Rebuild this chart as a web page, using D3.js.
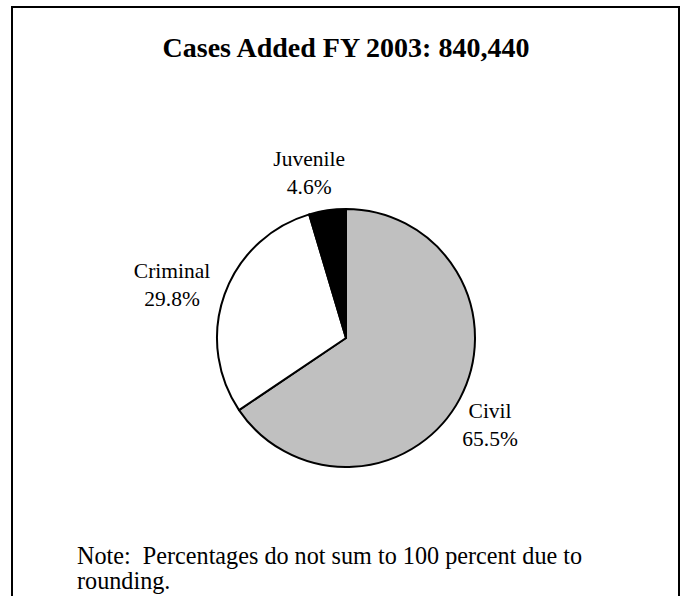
<!DOCTYPE html>
<html>
<head>
<meta charset="utf-8">
<script src="https://cdn.jsdelivr.net/npm/d3@7/dist/d3.min.js"></script>
<style>
  html, body { margin: 0; padding: 0; background: #fff; }
  svg { display: block; }
  text { font-family: "Liberation Serif", "Times New Roman", serif; fill: #000; }
</style>
</head>
<body>
<svg id="chart" width="681" height="596"></svg>
<script>
const title = "Cases Added FY 2003: 840,440";
const categories = ["Civil", "Criminal", "Juvenile"];
const values = [65.5, 29.8, 4.6];
const valueLabels = ["65.5%", "29.8%", "4.6%"];
const colors = ["#c0c0c0", "#ffffff", "#000000"];
const noteLines = ["Note:\u00a0 Percentages do not sum to 100 percent due to", "rounding."];

const svg = d3.select("#chart");

// frame
svg.append("rect")
  .attr("x", 12).attr("y", 7)
  .attr("width", 667).attr("height", 600)
  .attr("fill", "none").attr("stroke", "#000").attr("stroke-width", 2);

// title
svg.append("text")
  .attr("x", 346).attr("y", 57)
  .attr("text-anchor", "middle")
  .attr("font-size", 28).attr("font-weight", "bold")
  .text(title);

const cx = 346, cy = 338, r = 129;
const pie = d3.pie().sort(null).value(d => d);
const arcs = pie(values);
const arc = d3.arc().innerRadius(0).outerRadius(r);

const g = svg.append("g").attr("transform", `translate(${cx},${cy})`);
g.selectAll("path")
  .data(arcs)
  .join("path")
  .attr("d", arc)
  .attr("fill", (d, i) => colors[i])
  .attr("stroke", "#000")
  .attr("stroke-width", 2)
  .attr("stroke-linejoin", "round");

// labels placed outside the pie along each slice's mid-angle, then nudged
const labelDist = [1.3, 1.35, 1.28];
const labelOffsets = [[-4, 7], [-10, 5], [-13, -3]];
const labelPos = (d, i) => {
  const a = (d.startAngle + d.endAngle) / 2;
  const rr = r * labelDist[i];
  return [Math.sin(a) * rr + labelOffsets[i][0], -Math.cos(a) * rr + labelOffsets[i][1]];
};
const lg = g.selectAll("g.lab")
  .data(arcs)
  .join("g")
  .attr("class", "lab")
  .attr("transform", (d, i) => `translate(${labelPos(d, i)})`);
lg.append("text")
  .attr("text-anchor", "middle")
  .attr("font-size", 21.5)
  .attr("y", -6)
  .text((d, i) => categories[i]);
lg.append("text")
  .attr("text-anchor", "middle")
  .attr("font-size", 21.5)
  .attr("y", 22)
  .text((d, i) => valueLabels[i]);

// note
svg.append("g").selectAll("text")
  .data(noteLines)
  .join("text")
  .attr("x", 77)
  .attr("y", (d, i) => 564 + i * 25)
  .attr("font-size", 24.2)
  .text(d => d);
</script>
</body>
</html>
